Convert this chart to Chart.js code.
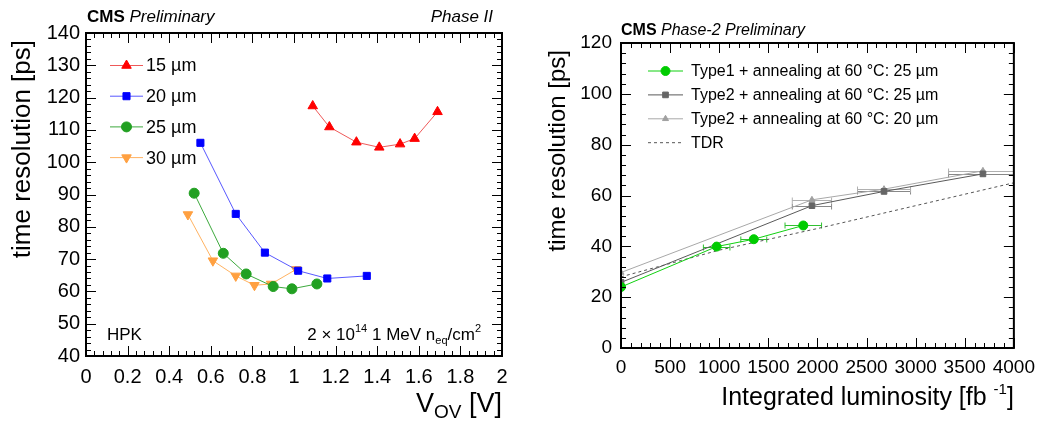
<!DOCTYPE html>
<html>
<head>
<meta charset="utf-8">
<script src="https://cdn.jsdelivr.net/npm/chart.js@4.4.1/dist/chart.umd.min.js"></script>
<style>
  html, body { margin: 0; padding: 0; background: #fff; }
  #wrap { position: relative; width: 1043px; height: 421px; }
  canvas { position: absolute; top: 0; }
</style>
</head>
<body>
<div id="wrap">
  <canvas id="left" width="520" height="421" style="left:0"></canvas>
  <canvas id="right" width="523" height="421" style="left:520px"></canvas>
</div>
<script>
// left panel: time resolution vs over-voltage, per pitch
const vov15 = [1.09, 1.17, 1.30, 1.41, 1.51, 1.58, 1.69];
const res15 = [117.4, 110.9, 106.2, 104.6, 105.6, 107.3, 115.6];
const vov20 = [0.55, 0.72, 0.86, 1.02, 1.16, 1.35];
const res20 = [106.0, 84.0, 72.0, 66.4, 64.0, 64.8];
const vov25 = [0.52, 0.66, 0.77, 0.90, 0.99, 1.11];
const res25 = [90.4, 71.8, 65.4, 61.5, 60.8, 62.3];
const vov30 = [0.49, 0.61, 0.72, 0.81, 0.89, 1.01];
const res30 = [83.8, 69.5, 64.8, 61.9, 62.3, 66.8];

// right panel: time resolution vs integrated luminosity
const lumiT1 = [0, 974, 1352, 1856];
const resT1 = [24.0, 39.9, 42.8, 48.2];
const errT1 = [0, 135, 132, 186];
const lumiT2 = [0, 1944, 2678, 3685];
const resT2_25 = [25.8, 56.0, 61.6, 68.5];
const resT2_20 = [29.7, 58.3, 62.5, 69.7];
const errT2 = [0, 200, 270, 350];
const lumiTDR = [0, 1000, 2000, 3000, 4000];
const resTDR = [28.0, 38.5, 47.0, 56.0, 65.0];

const FONT = '"Liberation Sans", Arial, Helvetica, sans-serif';
Chart.defaults.font.family = FONT;
Chart.defaults.color = '#000';

const pts = (xs, ys) => xs.map((x, i) => ({ x: x, y: ys[i] }));

function fontStr(p) {
  return (p.style || '') + ' ' + (p.weight || '') + ' ' + p.size + 'px ' + FONT;
}

// draw a run of text pieces (for sub/superscripts)
function richText(ctx, parts, x, y, align) {
  let w = 0;
  parts.forEach(p => { ctx.font = fontStr(p); w += ctx.measureText(p.t).width; });
  let cx = align === 'right' ? x - w : x;
  ctx.textAlign = 'left';
  parts.forEach(p => {
    ctx.font = fontStr(p);
    ctx.fillText(p.t, cx, y + (p.dy || 0));
    cx += ctx.measureText(p.t).width;
  });
}

// ROOT style frame with inward ticks on all four sides
const rootFrame = {
  id: 'rootFrame',
  afterDraw(chart, args, o) {
    const { ctx, chartArea: a, scales: { x, y } } = chart;
    ctx.save();
    ctx.strokeStyle = '#000';
    ctx.lineWidth = 1;
    const isMajor = (v, m) => Math.abs(v / m - Math.round(v / m)) < 1e-6;
    const nx = Math.round((x.max - x.min) / o.xMinor);
    for (let i = 0; i <= nx; i++) {
      const v = x.min + i * o.xMinor;
      const px = Math.round(x.getPixelForValue(v)) + 0.5;
      const L = isMajor(v, o.xMajor) ? 10 : 5;
      ctx.beginPath();
      ctx.moveTo(px, a.bottom); ctx.lineTo(px, a.bottom - L);
      ctx.moveTo(px, a.top); ctx.lineTo(px, a.top + L);
      ctx.stroke();
    }
    const ny = Math.round((y.max - y.min) / o.yMinor);
    for (let i = 0; i <= ny; i++) {
      const v = y.min + i * o.yMinor;
      const py = Math.round(y.getPixelForValue(v)) + 0.5;
      const L = isMajor(v, o.yMajor) ? 10 : 5;
      ctx.beginPath();
      ctx.moveTo(a.left, py); ctx.lineTo(a.left + L, py);
      ctx.moveTo(a.right, py); ctx.lineTo(a.right - L, py);
      ctx.stroke();
    }
    ctx.lineWidth = 2;
    ctx.strokeRect(a.left, a.top, a.right - a.left, a.bottom - a.top);
    ctx.restore();
  }
};

// legend drawn inside the frame, from the dataset styles
const rootLegend = {
  id: 'rootLegend',
  afterDraw(chart, args, o) {
    const ctx = chart.ctx;
    ctx.save();
    chart.data.datasets.forEach((ds, i) => {
      const cy = o.y0 + i * o.dy;
      ctx.strokeStyle = ds.borderColor;
      ctx.lineWidth = 1;
      ctx.setLineDash(ds.borderDash || []);
      ctx.beginPath();
      ctx.moveTo(o.x0, cy); ctx.lineTo(o.x1, cy);
      ctx.stroke();
      ctx.setLineDash([]);
      if (ds.pointRadius > 0) {
        ctx.fillStyle = ds.pointBackgroundColor;
        ctx.strokeStyle = ds.pointBorderColor;
        Chart.helpers.drawPoint(ctx, {
          pointStyle: ds.pointStyle, radius: ds.pointRadius,
          rotation: ds.pointRotation || 0, borderWidth: 1
        }, (o.x0 + o.x1) / 2, cy);
      }
      ctx.fillStyle = '#000';
      ctx.font = o.size + 'px ' + FONT;
      ctx.textAlign = 'left';
      ctx.textBaseline = 'middle';
      ctx.fillText(ds.label, o.tx, cy + 1);
    });
    ctx.restore();
  }
};

// horizontal error bars from dataset.xerr
const xErrors = {
  id: 'xErrors',
  beforeDatasetsDraw(chart) {
    const { ctx, chartArea: a, scales: { x, y } } = chart;
    ctx.save();
    ctx.beginPath();
    ctx.rect(a.left, a.top, a.right - a.left, a.bottom - a.top);
    ctx.clip();
    chart.data.datasets.forEach(ds => {
      if (!ds.xerr) return;
      ctx.strokeStyle = ds.errColor;
      ctx.lineWidth = 1;
      ds.data.forEach((p, i) => {
        const e = ds.xerr[i];
        if (!e) return;
        const x1 = x.getPixelForValue(p.x - e), x2 = x.getPixelForValue(p.x + e);
        const py = Math.round(y.getPixelForValue(p.y)) + 0.5;
        ctx.beginPath();
        ctx.moveTo(x1, py); ctx.lineTo(x2, py);
        ctx.moveTo(x1, py - 3); ctx.lineTo(x1, py + 3);
        ctx.moveTo(x2, py - 3); ctx.lineTo(x2, py + 3);
        ctx.stroke();
      });
    });
    ctx.restore();
  }
};

const leftText = {
  id: 'leftText',
  afterDraw(chart) {
    const ctx = chart.ctx;
    const a = chart.chartArea;
    ctx.save();
    ctx.fillStyle = '#000';
    ctx.textBaseline = 'alphabetic';
    richText(ctx, [{ t: 'CMS', size: 17, weight: 'bold' }, { t: ' Preliminary', size: 17, style: 'italic' }], 87, 22, 'left');
    richText(ctx, [{ t: 'Phase II', size: 17, style: 'italic' }], 493, 22, 'right');
    richText(ctx, [{ t: 'HPK', size: 17 }], 107, 340, 'left');
    richText(ctx, [
      { t: '2 \u00d7 10', size: 17 }, { t: '14', size: 11, dy: -8 }, { t: ' 1 MeV n', size: 17 },
      { t: 'eq', size: 11, dy: 4 }, { t: '/cm', size: 17 }, { t: '2', size: 11, dy: -8 }
    ], 481, 340, 'right');
    // axis titles
    richText(ctx, [{ t: 'V', size: 27 }, { t: 'OV', size: 19, dy: 6 }, { t: ' [V]', size: 27 }], a.right, 412, 'right');
    ctx.translate(23, 40);
    ctx.rotate(-Math.PI / 2);
    ctx.font = '26px ' + FONT;
    ctx.textAlign = 'right';
    ctx.textBaseline = 'middle';
    ctx.fillText('time resolution [ps]', 0, 0);
    ctx.restore();
  }
};

const rightText = {
  id: 'rightText',
  afterDraw(chart) {
    const ctx = chart.ctx;
    const a = chart.chartArea;
    ctx.save();
    ctx.fillStyle = '#000';
    ctx.textBaseline = 'alphabetic';
    richText(ctx, [{ t: 'CMS', size: 16, weight: 'bold' }, { t: ' Phase-2 Preliminary', size: 16, style: 'italic' }], a.left, 35, 'left');
    richText(ctx, [{ t: 'Integrated luminosity [fb ', size: 25 }, { t: '-1', size: 15, dy: -11 }, { t: ']', size: 25 }], a.right, 405, 'right');
    ctx.translate(38, 50);
    ctx.rotate(-Math.PI / 2);
    ctx.font = '24px ' + FONT;
    ctx.textAlign = 'right';
    ctx.textBaseline = 'middle';
    ctx.fillText('time resolution [ps]', 0, 0);
    ctx.restore();
  }
};

function axis(min, max, step, width, height, size, pad, fmt) {
  const s = {
    type: 'linear', min: min, max: max,
    grid: { display: false, drawTicks: false },
    border: { display: false },
    ticks: { stepSize: step, autoSkip: false, maxRotation: 0, padding: pad, color: '#000',
             font: { size: size }, callback: fmt }
  };
  if (width) s.afterFit = sc => { sc.width = width; };
  if (height) s.afterFit = sc => { sc.height = height; };
  return s;
}

const fmt1 = v => String(Math.round(v * 10) / 10);
const fmt0 = v => String(Math.round(v));

function line(label, data, color, pointColor, style, r, extra) {
  return Object.assign({
    label: label, data: data, showLine: true,
    borderColor: color, borderWidth: 1, backgroundColor: pointColor,
    pointBackgroundColor: pointColor, pointBorderColor: pointColor,
    pointStyle: style, pointRadius: r, pointHoverRadius: r, pointBorderWidth: 1
  }, extra || {});
}

new Chart(document.getElementById('left').getContext('2d'), {
  type: 'scatter',
  data: {
    datasets: [
      line('15 \u00b5m', pts(vov15, res15), 'rgba(235,60,60,0.85)', '#ff0000', 'triangle', 5.5),
      line('20 \u00b5m', pts(vov20, res20), 'rgba(70,70,255,0.9)', '#0000ff', 'rect', 5),
      line('25 \u00b5m', pts(vov25, res25), 'rgba(40,160,40,0.9)', '#22a022', 'circle', 5),
      line('30 \u00b5m', pts(vov30, res30), 'rgba(255,170,80,0.9)', '#ffa040', 'triangle', 5.5, { pointRotation: 180 })
    ]
  },
  options: {
    responsive: false, animation: false, devicePixelRatio: 1,
    layout: { padding: { top: 33, right: 18, left: 0, bottom: 0 } },
    plugins: {
      legend: { display: false }, tooltip: { enabled: false },
      rootFrame: { xMajor: 0.2, xMinor: 0.04, yMajor: 10, yMinor: 2 },
      rootLegend: { x0: 110, x1: 143, tx: 146, y0: 65.5, dy: 30.7, size: 18 }
    },
    scales: {
      x: axis(0, 2, 0.2, 0, 65, 20, 9, fmt1),
      y: axis(40, 140, 10, 86, 0, 20, 6, fmt0)
    }
  },
  plugins: [rootFrame, rootLegend, leftText]
});

new Chart(document.getElementById('right').getContext('2d'), {
  type: 'scatter',
  data: {
    datasets: [
      line('Type1 + annealing at 60 \u00b0C: 25 \u00b5m', pts(lumiT1, resT1), '#10d010', '#00cc00', 'circle', 4.5,
           { xerr: errT1, errColor: '#30c030' }),
      line('Type2 + annealing at 60 \u00b0C: 25 \u00b5m', pts(lumiT2, resT2_25), '#5a5a5a', '#666666', 'rect', 4,
           { xerr: errT2, errColor: '#888888' }),
      line('Type2 + annealing at 60 \u00b0C: 20 \u00b5m', pts(lumiT2, resT2_20), '#a8a8a8', '#a0a0a0', 'triangle', 3.5,
           { xerr: errT2, errColor: '#b0b0b0' }),
      line('TDR', pts(lumiTDR, resTDR), '#555555', '#555555', 'circle', 0, { borderDash: [3, 3] })
    ]
  },
  options: {
    responsive: false, animation: false, devicePixelRatio: 1,
    layout: { padding: { top: 43, right: 28, left: 0, bottom: 0 } },
    plugins: {
      legend: { display: false }, tooltip: { enabled: false },
      rootFrame: { xMajor: 500, xMinor: 100, yMajor: 20, yMinor: 4 },
      rootLegend: { x0: 128, x1: 163, tx: 171, y0: 71, dy: 23.9, size: 16 }
    },
    scales: {
      x: axis(0, 4000, 500, 0, 73, 19, 8, fmt0),
      y: axis(0, 120, 20, 101, 0, 19, 9, fmt0)
    }
  },
  plugins: [rootFrame, rootLegend, xErrors, rightText]
});
</script>
</body>
</html>
